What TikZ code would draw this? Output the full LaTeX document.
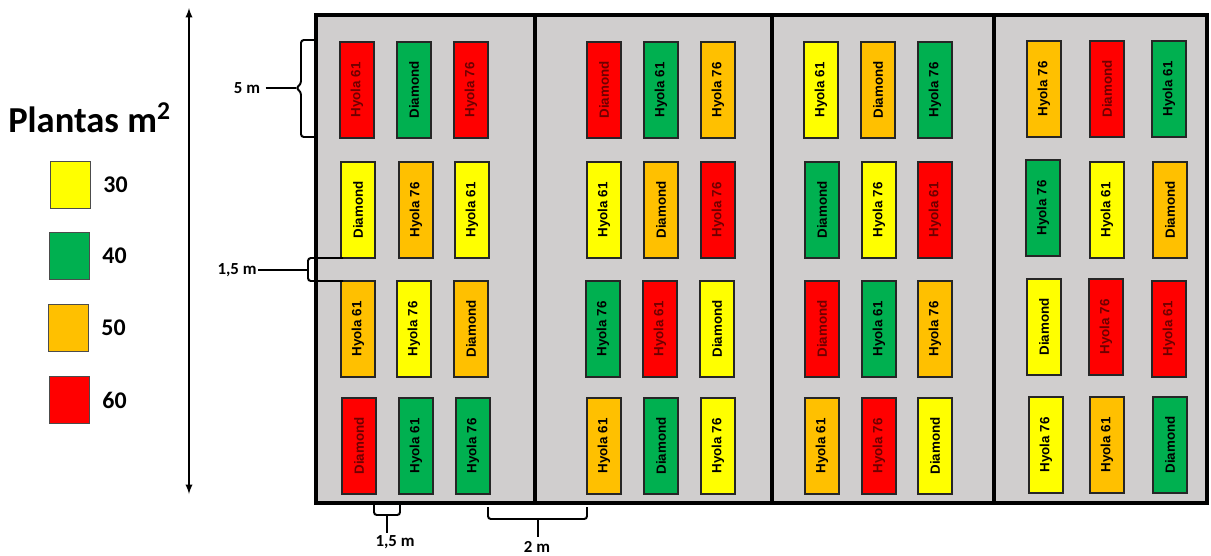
\documentclass[tikz,border=0pt]{standalone}
\usepackage{fontspec}
\setmainfont{Carlito}
\newfontfamily\plotfont{Liberation Sans}
\definecolor{plotyellow}{RGB}{255,255,0}
\definecolor{plotgreen}{RGB}{0,176,80}
\definecolor{plotorange}{RGB}{255,192,0}
\definecolor{plotred}{RGB}{255,0,0}
\definecolor{fieldgray}{RGB}{208,206,206}
\definecolor{darkred}{RGB}{110,0,0}
\usetikzlibrary{arrows,positioning}

\tikzset{
  plotbox/.style={draw=black!85, line width=0.8pt, rotate=90, minimum width=2.4cm, minimum height=0.85cm, inner sep=0pt, font=\plotfont\bfseries\fontsize{9.5}{11}\selectfont},
  plotY/.style={plotbox, fill=plotyellow},
  plotG/.style={plotbox, fill=plotgreen},
  plotO/.style={plotbox, fill=plotorange},
  plotR/.style={plotbox, fill=plotred, text=darkred},
  legbox/.style={draw=black!70, line width=0.6pt, minimum width=1cm, minimum height=1.18cm, inner sep=0pt},
  legtext/.style={font=\bfseries\fontsize{17}{20}\selectfont},
  dimlabel/.style={font=\bfseries\fontsize{12}{14}\selectfont, inner sep=1pt},
  brk/.style={line width=1.4pt, rounded corners=2pt},
  frame/.style={line width=2.6pt}
}

\begin{document}
\begin{tikzpicture}[x=0.025cm,y=-0.025cm]
\useasboundingbox (0,0) rectangle (1211,555);

% legend
\node[anchor=base west, font=\bfseries\fontsize{26}{30}\selectfont, inner sep=0pt] (title) at (8,132) {Plantas m\textsuperscript{2}};
\node[legbox, fill=plotyellow] (k30) at (70,185) {};
\node[legbox, fill=plotgreen]  (k40) at (69,256) {};
\node[legbox, fill=plotorange] (k50) at (68,328) {};
\node[legbox, fill=plotred]    (k60) at (69,400) {};
\node[legtext, right=0.2cm of k30] (t30) {30};
\node[legtext, right=0.2cm of k40] (t40) {40};
\node[legtext, right=0.2cm of k50] (t50) {50};
\node[legtext, right=0.2cm of k60] (t60) {60};

% length arrow
\coordinate (atop) at (189,8);
\coordinate (abot) at (189,494);
\draw[latex-latex, line width=1.3pt] (atop) -- (abot);

% field
\fill[fieldgray] (316,15) rectangle (1207,503);

% block 1
\node[plotR] (b1r1c1) at (357,90) {Hyola 61};
\node[plotG] (b1r1c2) at (414,90) {Diamond};
\node[plotR] (b1r1c3) at (471,90) {Hyola 76};
\node[plotY] (b1r2c1) at (358,210) {Diamond};
\node[plotO] (b1r2c2) at (416,210) {Hyola 76};
\node[plotY] (b1r2c3) at (472,210) {Hyola 61};
\node[plotO] (b1r3c1) at (358,329) {Hyola 61};
\node[plotY] (b1r3c2) at (414,329) {Hyola 76};
\node[plotO] (b1r3c3) at (471,329) {Diamond};
\node[plotR] (b1r4c1) at (359,446) {Diamond};
\node[plotG] (b1r4c2) at (416,446) {Hyola 61};
\node[plotG] (b1r4c3) at (473,446) {Hyola 76};

% block 2
\node[plotR] (b2r1c1) at (604,90) {Diamond};
\node[plotG] (b2r1c2) at (661,90) {Hyola 61};
\node[plotO] (b2r1c3) at (718,90) {Hyola 76};
\node[plotY] (b2r2c1) at (604,210) {Hyola 61};
\node[plotO] (b2r2c2) at (661,210) {Diamond};
\node[plotR] (b2r2c3) at (718,210) {Hyola 76};
\node[plotG] (b2r3c1) at (603,329) {Hyola 76};
\node[plotR] (b2r3c2) at (660,329) {Hyola 61};
\node[plotY] (b2r3c3) at (717,329) {Diamond};
\node[plotO] (b2r4c1) at (604,446) {Hyola 61};
\node[plotG] (b2r4c2) at (661,446) {Diamond};
\node[plotY] (b2r4c3) at (718,446) {Hyola 76};

% block 3
\node[plotY] (b3r1c1) at (821,90) {Hyola 61};
\node[plotO] (b3r1c2) at (878,90) {Diamond};
\node[plotG] (b3r1c3) at (935,90) {Hyola 76};
\node[plotG] (b3r2c1) at (822,210) {Diamond};
\node[plotY] (b3r2c2) at (879,210) {Hyola 76};
\node[plotR] (b3r2c3) at (935,210) {Hyola 61};
\node[plotR] (b3r3c1) at (822,329) {Diamond};
\node[plotG] (b3r3c2) at (879,329) {Hyola 61};
\node[plotO] (b3r3c3) at (935,329) {Hyola 76};
\node[plotO] (b3r4c1) at (822,446) {Hyola 61};
\node[plotR] (b3r4c2) at (879,446) {Hyola 76};
\node[plotY] (b3r4c3) at (935,446) {Diamond};

% block 4
\node[plotO] (b4r1c1) at (1044,89) {Hyola 76};
\node[plotR] (b4r1c2) at (1107,89) {Diamond};
\node[plotG] (b4r1c3) at (1169,89) {Hyola 61};
\node[plotG] (b4r2c1) at (1043,208) {Hyola 76};
\node[plotY] (b4r2c2) at (1107,210) {Hyola 61};
\node[plotO] (b4r2c3) at (1170,210) {Diamond};
\node[plotY] (b4r3c1) at (1044,327) {Diamond};
\node[plotR] (b4r3c2) at (1106,327) {Hyola 76};
\node[plotR] (b4r3c3) at (1169,329) {Hyola 61};
\node[plotY] (b4r4c1) at (1046,445) {Hyola 76};
\node[plotO] (b4r4c2) at (1107,445) {Hyola 61};
\node[plotG] (b4r4c3) at (1170,445) {Diamond};

% frame and block borders
\draw[frame] (316,15) rectangle (1207,503);
\draw[frame] (535,15) -- (535,503);
\draw[frame] (772,15) -- (772,503);
\draw[frame] (994,15) -- (994,503);

% 5 m
\node[dimlabel] (l5) at (247,88) {5 m};
\coordinate (tip5) at (296,88);
\draw[brk] (316,40) -- (301,40) -- (301,84) -- (tip5) -- (301,92) -- (301,137) -- (316,137);
\draw[line width=1.4pt] (l5.east) ++(4,0) -- (tip5);

% 1,5 m between rows
\node[dimlabel] (l15a) at (237,270) {1,5 m};
\coordinate (tip15a) at (308,270);
\draw[brk] (343,258) -- (308,258) -- (308,281) -- (343,281);
\draw[line width=1.4pt] (l15a.east) -- (tip15a);

% 1,5 m between columns
\node[dimlabel] (l15b) at (395,542) {1,5 m};
\coordinate (tip15b) at (387,533);
\draw[brk] (374,503) -- (374,515) -- (400,515) -- (400,503);
\draw[line width=1.4pt] (387,515) -- (tip15b);

% 2 m between blocks
\node[dimlabel] (l2) at (537,547) {2 m};
\coordinate (tip2) at (538,537);
\draw[brk] (488,507) -- (488,519) -- (587,519) -- (587,507);
\draw[line width=1.4pt] (538,519) -- (tip2);
\end{tikzpicture}
\end{document}
